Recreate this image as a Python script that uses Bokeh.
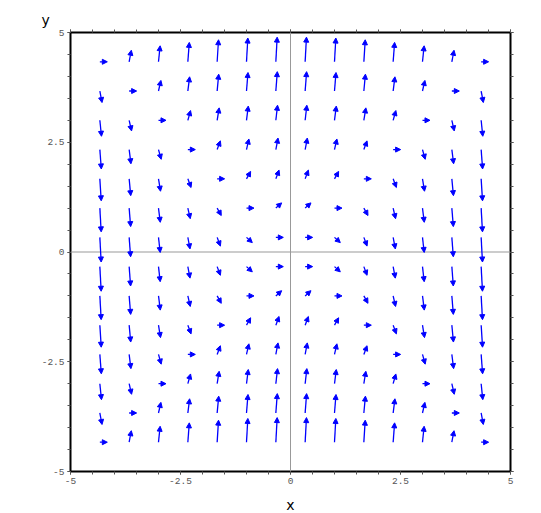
import math
from bokeh.plotting import figure
from bokeh.models import (ColumnDataSource, Arrow, NormalHead, Span,
                          LinearAxis, FixedTicker)
from bokeh.embed import file_html
from bokeh.resources import INLINE

# ---- data (grid positions and vector components) ----
X_POS = [-4.333, -3.667, -3.0, -2.333, -1.667, -1.0, -0.333,
         0.333, 1.0, 1.667, 2.333, 3.0, 3.667, 4.333]
Y_POS = [4.333, 3.667, 3.0, 2.333, 1.667, 1.0, 0.333,
         -0.333, -1.0, -1.667, -2.333, -3.0, -3.667, -4.333]

U_ROW = [1.0, 1.0, 1.0, 1.0, 1.0, 1.0, 1.0, 1.0, 1.0, 1.0, 1.0, 1.0, 1.0, 1.0]

V_R0 = [0.0, 5.3, 9.8, 13.3, 16.0, 17.8, 18.7, 18.7, 17.8, 16.0, 13.3, 9.8, 5.3, 0.0]
V_R1 = [-5.3, 0.0, 4.4, 8.0, 10.7, 12.4, 13.3, 13.3, 12.4, 10.7, 8.0, 4.4, 0.0, -5.3]
V_R2 = [-9.8, -4.4, 0.0, 3.6, 6.2, 8.0, 8.9, 8.9, 8.0, 6.2, 3.6, 0.0, -4.4, -9.8]
V_R3 = [-13.3, -8.0, -3.6, 0.0, 2.7, 4.4, 5.3, 5.3, 4.4, 2.7, 0.0, -3.6, -8.0, -13.3]
V_R4 = [-16.0, -10.7, -6.2, -2.7, 0.0, 1.8, 2.7, 2.7, 1.8, 0.0, -2.7, -6.2, -10.7, -16.0]
V_R5 = [-17.8, -12.4, -8.0, -4.4, -1.8, 0.0, 0.9, 0.9, 0.0, -1.8, -4.4, -8.0, -12.4, -17.8]
V_R6 = [-18.7, -13.3, -8.9, -5.3, -2.7, -0.9, 0.0, 0.0, -0.9, -2.7, -5.3, -8.9, -13.3, -18.7]
V_ROWS = [V_R0, V_R1, V_R2, V_R3, V_R4, V_R5, V_R6,
          V_R6, V_R5, V_R4, V_R3, V_R2, V_R1, V_R0]

MAJOR_TICKS = [-5, -2.5, 0, 2.5, 5]
TICK_LABELS = ["-5", "-2.5", "0", "2.5", "5"]

# ---- figure ----
p = figure(frame_width=440, frame_height=439, x_range=(-5, 5), y_range=(-5, 5),
           output_backend="svg", toolbar_location=None,
           min_border_left=70, min_border_right=31, min_border_top=32,
           min_border_bottom=42, background_fill_color="white",
           border_fill_color="white", title="y")
p.xgrid.visible = False
p.ygrid.visible = False
p.outline_line_color = "black"
p.outline_line_width = 2
p.outline_line_alpha = 1.0

p.title.align = "left"
p.title.offset = -29
p.title.standoff = 3
p.title.text_font = "DejaVu Sans"
p.title.text_font_size = "14px"
p.title.text_font_style = "normal"
p.title.text_color = "black"

minor = [k * 0.5 for k in range(-10, 11)]
overrides = {t: s for t, s in zip(MAJOR_TICKS, TICK_LABELS)}

top_axis = LinearAxis()
right_axis = LinearAxis()
p.add_layout(top_axis, "above")
p.add_layout(right_axis, "right")

for ax in p.axis:
    ax.ticker = FixedTicker(ticks=MAJOR_TICKS, minor_ticks=minor)
    ax.major_tick_in = 0
    ax.major_tick_out = 3
    ax.minor_tick_in = 0
    ax.minor_tick_out = 3
    ax.major_tick_line_color = "#555555"
    ax.minor_tick_line_color = "#555555"
    ax.axis_line_color = None
    ax.major_label_overrides = overrides
    ax.major_label_text_font = "Liberation Mono"
    ax.major_label_text_font_size = "9.5px"
    ax.major_label_text_color = "#555555"
    ax.major_label_standoff = 3

for ax in (top_axis, right_axis):
    ax.major_label_text_color = None
    ax.major_label_text_font_size = "1px"
    ax.major_label_standoff = 0

# x axis title (bottom axis)
bottom_axis = p.below[0]
bottom_axis.axis_label = "x"
bottom_axis.axis_label_standoff = 10
bottom_axis.axis_label_text_font = "DejaVu Sans"
bottom_axis.axis_label_text_font_size = "14px"
bottom_axis.axis_label_text_font_style = "normal"
bottom_axis.axis_label_text_color = "black"

# zero lines
p.add_layout(Span(location=0, dimension="width", line_color="#999999", line_width=1))
p.add_layout(Span(location=0, dimension="height", line_color="#999999", line_width=1))

# arrows
x0, y0, x1, y1 = [], [], [], []
PX_X = 440 / 10.0
PX_Y = 439 / 10.0
for yi, vrow in zip(Y_POS, V_ROWS):
    for xi, u, v in zip(X_POS, U_ROW, vrow):
        mag = math.hypot(u, v)
        L = 6.5 + 0.97 * mag  # pixel length of drawn arrow
        x0.append(xi)
        y0.append(yi)
        x1.append(xi + (u / mag) * L / PX_X)
        y1.append(yi + (v / mag) * L / PX_Y)

src = ColumnDataSource(data=dict(x0=x0, y0=y0, x1=x1, y1=y1))
p.add_layout(Arrow(end=NormalHead(size=5, fill_color="blue", line_color="blue",
                                  line_width=1),
                   x_start="x0", y_start="y0", x_end="x1", y_end="y1",
                   source=src, line_color="blue", line_width=1.3))

open("out.html", "w").write(file_html(p, INLINE))
